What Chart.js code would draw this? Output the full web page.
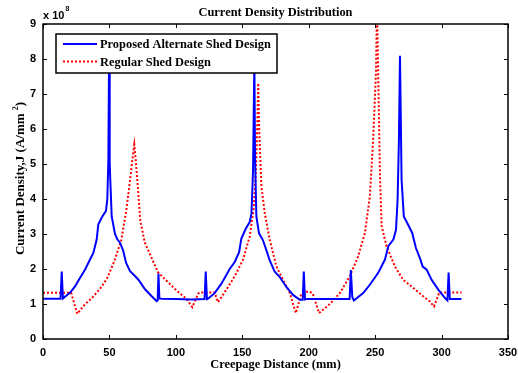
<!DOCTYPE html>
<html>
<head>
<meta charset="utf-8">
<script src="https://cdn.jsdelivr.net/npm/chart.js@4/dist/chart.umd.min.js"></script>
<style>
  html, body { margin: 0; padding: 0; background: #fff; }
  #wrap { width: 518px; height: 373px; }
</style>
</head>
<body>
<div id="wrap"><canvas id="chart" width="518" height="373"></canvas></div>
<script>
// creepage distance (mm) / current density (x 1e8 A/mm^2)
var altX = [0, 13.2, 14.1, 15, 17, 20.3, 24.1, 27.8, 31.6, 34.1, 37.9, 40.4, 41.6, 44.2, 47.4, 48.4, 49.2, 49.7, 50.2, 51.7,
  54.2, 55.9, 58, 60.4, 62.5, 65.5, 69.2, 71.7, 76.8, 81.8, 85.6, 86.3, 86.9, 87.6, 89.4, 100, 112, 121.6, 122.5, 123.4,
  124.4, 129.2, 134.3, 140.5, 144.3, 147.6, 149.3, 152.6, 155.6, 156.9, 158.1, 159.1, 159.6, 160.6, 162.6, 165.6, 168.1,
  170.6, 174.4, 178.2, 183.3, 188.2, 193.3, 195.5, 196.3, 197.2, 198.3, 230.8, 231.7, 232.8, 234, 241, 246, 252.3, 257.4,
  259.9, 263.7, 265.7, 266.9, 267.9, 268.7, 269.9, 271.6, 275.4, 277.9, 280.7, 283.7, 285.8, 288.8, 292.5, 297.5, 302.6,
  304.4, 305.3, 306.2, 307.6, 315];
var altY = [1.15, 1.15, 1.93, 1.16, 1.22, 1.32, 1.5, 1.74, 1.98, 2.17, 2.46, 2.84, 3.27, 3.47, 3.66, 3.99, 5.1, 7.9, 5.0, 3.5,
  3.0, 2.85, 2.75, 2.52, 2.18, 1.94, 1.8, 1.7, 1.42, 1.22, 1.08, 1.1, 1.87, 1.16, 1.15, 1.14, 1.13, 1.14, 1.93, 1.14,
  1.16, 1.31, 1.58, 2.0, 2.2, 2.48, 2.87, 3.15, 3.34, 3.58, 4.82, 8.0, 5.2, 3.5, 3.02, 2.82, 2.54,
  2.25, 1.92, 1.77, 1.48, 1.26, 1.12, 1.12, 1.93, 1.13, 1.14, 1.14, 1.97, 1.2, 1.1, 1.31, 1.55, 1.89, 2.27,
  2.65, 2.84, 3.12, 3.98, 5.69, 8.09, 4.55, 3.5, 3.22, 3.03, 2.6, 2.31, 2.07, 1.98, 1.69, 1.41, 1.17,
  1.1, 1.9, 1.14, 1.14, 1.14];

var regX = [0, 21.2, 25.8, 31.3, 37.5, 43.9, 48.8, 53.9, 58.9, 62.7, 65.2, 67.2, 68.7, 69.6, 71.4, 73.2, 76.5, 81.5, 86.5,
  92.8, 100.4, 107.9, 112.4, 116.7, 117.9, 129.2, 131.7, 138, 144.3, 150.6, 155.6, 158.5, 160.3, 161.3, 162, 162.7,
  164.4, 166.9, 170.6, 175.7, 180.7, 185.8, 190.3, 194.6, 199.6, 202.9, 207.8, 215.9, 223.4, 230.9, 237.2, 242.3, 246,
  248.5, 250.6, 251.4, 252.3, 253.6, 254.9, 258.6, 264.9, 271.1, 278.7, 286.2, 291.2, 294.3, 298.3, 315.1];
var regY = [1.32, 1.32, 0.72, 0.98, 1.2, 1.48, 1.77, 2.25, 2.82, 3.67, 4.44, 5.1, 5.55, 5.2, 4.34, 3.39, 2.77, 2.34, 1.91,
  1.67, 1.39, 1.15, 0.91, 1.29, 1.33, 1.33, 1.05, 1.41, 1.79, 2.27, 2.93, 3.7, 4.8, 6.2, 7.31, 6.0,
  4.36, 3.6, 2.84, 2.07, 1.69, 1.31, 0.74, 1.31, 1.36, 1.31, 0.74, 1.0, 1.31, 1.79, 2.36, 3.03, 4.07,
  5.69, 7.6, 9.5, 7.6, 4.74, 3.22, 2.65, 2.07, 1.69, 1.46, 1.22, 1.07, 0.93, 1.33, 1.33];

var seriesNames = ['Proposed Alternate Shed Design', 'Regular Shed Design'];
var xTicks = [0, 50, 100, 150, 200, 250, 300, 350];
var yTicks = [0, 1, 2, 3, 4, 5, 6, 7, 8, 9];

function pts(xs, ys) {
  return xs.map(function(x, i){ return {x: x, y: ys[i]}; });
}

var serif = '"Liberation Serif", "Times New Roman", serif';
var sans = '"Liberation Sans", Arial, sans-serif';

// matlab style: boxed axes, inward ticks, opaque legend, labels
var matlabFrame = {
  id: 'matlabFrame',
  afterDatasetsDraw: function(chart) {
    var ctx = chart.ctx, a = chart.chartArea;
    var xs = chart.scales.x, ys = chart.scales.y;
    ctx.save();
    ctx.strokeStyle = '#000';
    ctx.lineWidth = 1;
    ctx.beginPath();
    xTicks.forEach(function(v){
      var p = Math.round(xs.getPixelForValue(v)) + 0.5;
      ctx.moveTo(p, a.bottom); ctx.lineTo(p, a.bottom - 4);
      ctx.moveTo(p, a.top); ctx.lineTo(p, a.top + 4);
    });
    yTicks.forEach(function(v){
      var p = Math.round(ys.getPixelForValue(v)) + 0.5;
      ctx.moveTo(a.left, p); ctx.lineTo(a.left + 4, p);
      ctx.moveTo(a.right, p); ctx.lineTo(a.right - 4, p);
    });
    ctx.stroke();
    ctx.lineWidth = 1.5;
    ctx.strokeRect(a.left, a.top, a.right - a.left, a.bottom - a.top);

    // legend
    var lx = a.left + 13, ly = a.top + 10, lw = 221, lh = 39;
    ctx.fillStyle = '#fff';
    ctx.fillRect(lx, ly, lw, lh);
    ctx.lineWidth = 1.5;
    ctx.strokeRect(lx, ly, lw, lh);
    var ds = chart.data.datasets;
    for (var i = 0; i < ds.length; i++) {
      var cy = ly + 10 + i * 17.5;
      ctx.beginPath();
      ctx.strokeStyle = ds[i].borderColor;
      ctx.lineWidth = 2;
      ctx.setLineDash(ds[i].borderDash || []);
      ctx.moveTo(lx + 7, cy); ctx.lineTo(lx + 41, cy);
      ctx.stroke();
      ctx.setLineDash([]);
      ctx.fillStyle = '#000';
      ctx.font = 'bold 12.4px ' + serif;
      ctx.textBaseline = 'middle';
      ctx.textAlign = 'left';
      ctx.fillText(ds[i].label, lx + 44, cy + 1);
    }
    ctx.restore();
  },
  afterDraw: function(chart) {
    var ctx = chart.ctx, a = chart.chartArea;
    ctx.save();
    ctx.fillStyle = '#000';
    ctx.textBaseline = 'middle';
    ctx.textAlign = 'center';
    ctx.font = 'bold 12.4px ' + serif;
    ctx.fillText('Current Density Distribution', (a.left + a.right) / 2, 13);
    ctx.fillText('Creepage Distance (mm)', (a.left + a.right) / 2, 365);

    // y title, rotated
    ctx.save();
    ctx.translate(21, (a.top + a.bottom) / 2 - 3);
    ctx.rotate(-Math.PI / 2);
    var t1 = 'Current Density,J (A/mm ';
    ctx.font = 'bold 13px ' + serif;
    var w1 = ctx.measureText(t1).width;
    ctx.font = 'bold 8px ' + serif;
    var w2 = ctx.measureText('2').width;
    ctx.font = 'bold 13px ' + serif;
    var w3 = ctx.measureText(')').width;
    var x0 = -(w1 + w2 + w3) / 2;
    ctx.textAlign = 'left';
    ctx.fillText(t1, x0, 0);
    ctx.font = 'bold 8px ' + serif;
    ctx.fillText('2', x0 + w1, -5);
    ctx.font = 'bold 13px ' + serif;
    ctx.fillText(')', x0 + w1 + w2, 0);
    ctx.restore();

    // exponent label
    ctx.textAlign = 'left';
    ctx.font = 'bold 11px ' + sans;
    ctx.fillText('x 10', a.left, 16);
    var w = ctx.measureText('x 10').width;
    ctx.font = 'bold 7px ' + sans;
    ctx.fillText('8', a.left + w + 1, 9);
    ctx.restore();
  }
};

var ctx = document.getElementById('chart').getContext('2d');
var chart = new Chart(ctx, {
  type: 'line',
  data: {
    datasets: [{
      label: seriesNames[0],
      data: pts(altX, altY),
      borderColor: '#0000ff',
      borderWidth: 2,
      pointRadius: 0,
      tension: 0
    }, {
      label: seriesNames[1],
      data: pts(regX, regY),
      borderColor: '#ff0000',
      borderWidth: 2,
      borderDash: [2, 2],
      pointRadius: 0,
      tension: 0
    }]
  },
  options: {
    responsive: false,
    animation: false,
    devicePixelRatio: 1,
    layout: { padding: { top: 24, right: 10, left: 0, bottom: 0 } },
    plugins: {
      legend: { display: false },
      title: { display: false },
      tooltip: { enabled: false }
    },
    scales: {
      x: {
        type: 'linear',
        min: 0,
        max: 350,
        afterBuildTicks: function(s){ s.ticks = xTicks.map(function(v){ return {value: v}; }); },
        afterFit: function(s){ s.height = 34; s.paddingLeft = 0; s.paddingRight = 0; },
        ticks: { color: '#000', font: { family: sans, size: 11, weight: 'bold' }, padding: 7, maxRotation: 0 },
        grid: { display: false, drawTicks: false },
        border: { display: false }
      },
      y: {
        min: 0,
        max: 9,
        afterBuildTicks: function(s){ s.ticks = yTicks.map(function(v){ return {value: v}; }); },
        afterFit: function(s){ s.width = 43; s.paddingTop = 0; s.paddingBottom = 0; },
        ticks: { color: '#000', font: { family: sans, size: 11, weight: 'bold' }, padding: 7 },
        grid: { display: false, drawTicks: false },
        border: { display: false }
      }
    }
  },
  plugins: [matlabFrame]
});
</script>
</body>
</html>
